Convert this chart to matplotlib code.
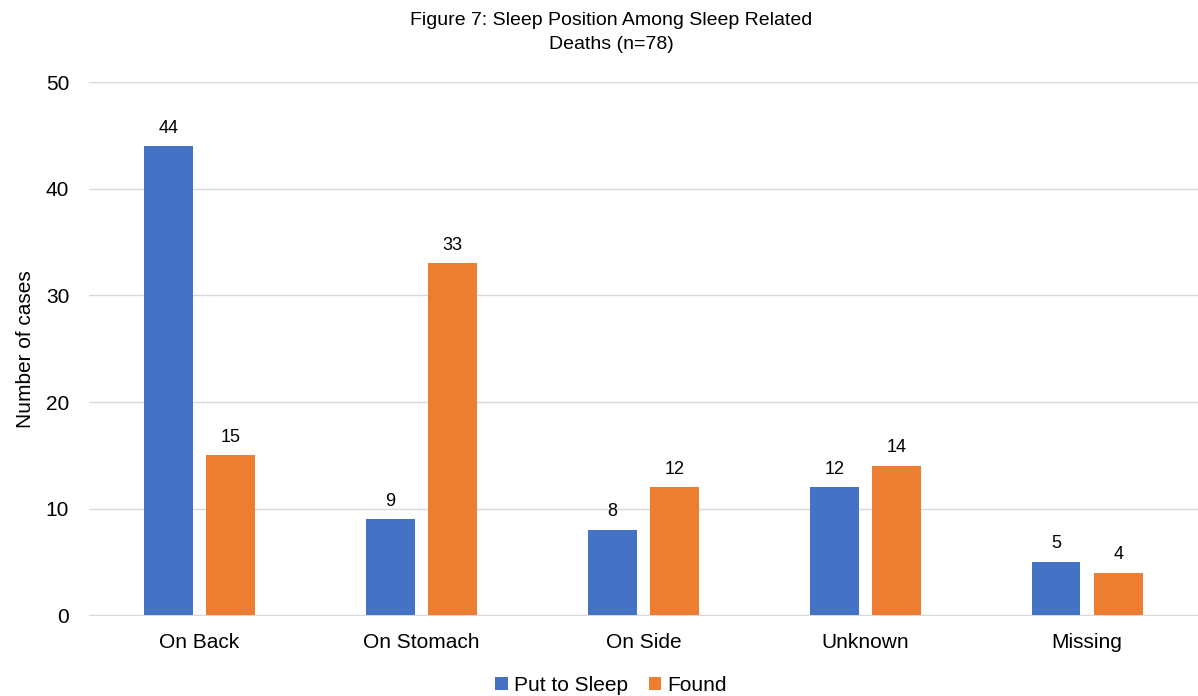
import matplotlib.pyplot as plt
import numpy as np

plt.rcParams['font.family'] = ['Liberation Sans', 'DejaVu Sans']

categories = ["On Back", "On Stomach", "On Side", "Unknown", "Missing"]
put_to_sleep = [44, 9, 8, 12, 5]
found = [15, 33, 12, 14, 4]

BLUE = "#4472C4"
ORANGE = "#ED7D31"

fig = plt.figure(figsize=(11.98, 6.96), dpi=100)
ax = fig.add_axes([0.074, 0.116, 0.926, 0.766])

x = np.arange(len(categories))
w = 0.22
b1 = ax.bar(x - 0.14, put_to_sleep, w, color=BLUE, label="Put to Sleep", zorder=3)
b2 = ax.bar(x + 0.14, found, w, color=ORANGE, label="Found", zorder=3)

# value labels above bars
for bars, vals in ((b1, put_to_sleep), (b2, found)):
    for bar, v in zip(bars, vals):
        ax.text(bar.get_x() + bar.get_width() / 2, v + 0.9, str(v),
                ha="center", va="bottom", fontsize=13, color="#000000")

ax.set_xlim(-0.5, 4.5)
ax.set_ylim(0, 50)
ax.set_yticks(range(0, 51, 10))
ax.grid(True, axis="y", color="#D9D9D9", linewidth=1, zorder=0)
for s in ("top", "right", "left"):
    ax.spines[s].set_visible(False)
ax.spines["bottom"].set_color("#D9D9D9")
ax.tick_params(axis="both", length=0, labelsize=15, colors="#000000")
ax.tick_params(axis="x", pad=13)
ax.tick_params(axis="y", pad=14)
ax.set_xticks(x)
ax.set_xticklabels(categories)
ax.set_ylabel("Number of cases", fontsize=15, labelpad=8)

fig.text(0.51, 0.953, "Figure 7: Sleep Position Among Sleep Related\nDeaths (n=78)",
         ha="center", va="center", fontsize=14, linespacing=1.55)

fig.legend(handles=[b1, b2], loc="lower center", bbox_to_anchor=(0.51, -0.025),
           ncol=2, frameon=False, fontsize=15, handlelength=0.6, handleheight=0.6,
           columnspacing=1.0, handletextpad=0.3)

fig.savefig("out.png", dpi=100)
